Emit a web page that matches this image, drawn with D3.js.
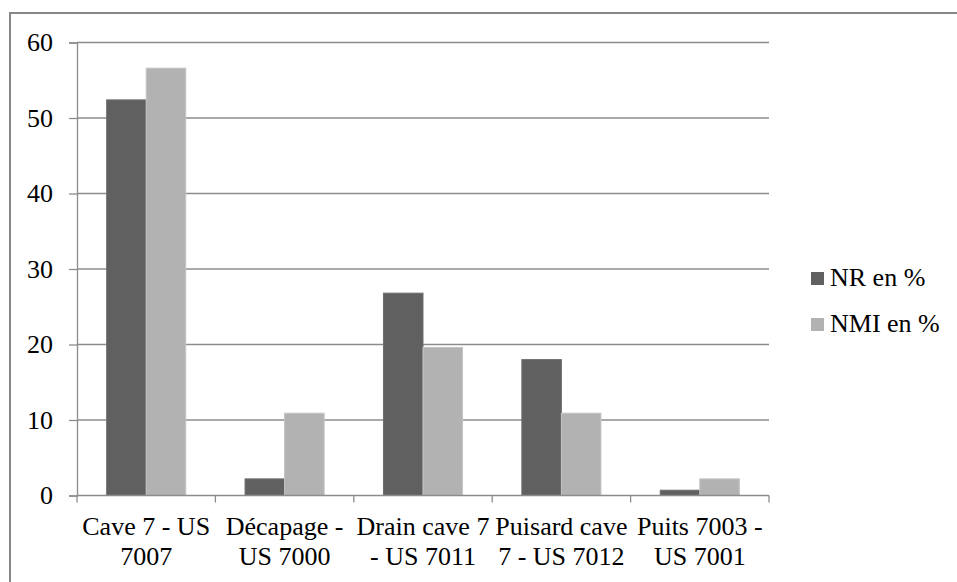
<!DOCTYPE html>
<html>
<head>
<meta charset="utf-8">
<script src="https://cdn.jsdelivr.net/npm/d3@7"></script>
<style>
  html, body { margin: 0; padding: 0; background: #fff; }
  svg { display: block; }
</style>
</head>
<body>
<svg id="chart" width="957" height="582"></svg>
<script>
// ---- data ----
const categories = [
  ["Cave 7 - US", "7007"],
  ["Décapage -", "US 7000"],
  ["Drain cave 7", "- US 7011"],
  ["Puisard cave", "7 - US 7012"],
  ["Puits 7003 -", "US 7001"]
];
const seriesNames = ["NR en %", "NMI en %"];
const nrValues  = [52.4, 2.2, 26.8, 18.0, 0.7];
const nmiValues = [56.6, 10.9, 19.6, 10.9, 2.2];
const yTicks = [0, 10, 20, 30, 40, 50, 60];
const colors = ["#606060", "#b2b2b2"];
const strokes = ["#6e6e6e", "#c4c4c4"];
const FONT = "Liberation Serif";

// ---- layout ----
const svg = d3.select("#chart");
const plotLeft = 77, plotRight = 769, plotTop = 42.5, plotBottom = 495.5;

svg.append("rect")
  .attr("x", 10).attr("y", 13)
  .attr("width", 1000).attr("height", 700)
  .attr("fill", "none").attr("stroke", "#878787").attr("stroke-width", 2);

const catKeys = categories.map((c, i) => i);
const x0 = d3.scaleBand().domain(catKeys).range([plotLeft, plotRight]).paddingInner(0).paddingOuter(0);
const x1 = d3.scaleBand().domain(seriesNames).range([0, x0.bandwidth()]).paddingInner(0).paddingOuter(0.75);
const y = d3.scaleLinear().domain([0, 60]).range([plotBottom, plotTop]);

// gridlines
svg.append("g").selectAll("line").data(yTicks.filter(t => t > 0)).join("line")
  .attr("x1", plotLeft).attr("x2", plotRight)
  .attr("y1", d => y(d)).attr("y2", d => y(d))
  .attr("stroke", "#8c8c8c").attr("stroke-width", 1.3);

// y axis
const yAxis = d3.axisLeft(y).tickValues(yTicks).tickSize(8).tickPadding(16).tickFormat(d3.format("d"));
const gy = svg.append("g").attr("transform", `translate(${plotLeft},0)`).call(yAxis);
gy.attr("font-family", FONT).attr("font-size", 26);
gy.select(".domain").attr("stroke", "#8c8c8c").attr("stroke-width", 1.3);
gy.selectAll(".tick line").attr("stroke", "#8c8c8c").attr("stroke-width", 1.3);
gy.selectAll(".tick text").attr("font-family", FONT).style("font-family", FONT).style("font-size", "26px").attr("fill", "#000");

// bars
const data = catKeys.map(i => ({ i, vals: [nrValues[i], nmiValues[i]] }));
const groups = svg.append("g").selectAll("g").data(data).join("g")
  .attr("transform", d => `translate(${x0(d.i)},0)`);
groups.selectAll("rect").data(d => d.vals.map((v, k) => ({ v, k }))).join("rect")
  .attr("x", d => x1(seriesNames[d.k]))
  .attr("width", x1.bandwidth())
  .attr("y", d => y(d.v))
  .attr("height", d => y(0) - y(d.v))
  .attr("fill", d => colors[d.k])
  .attr("stroke", d => strokes[d.k]).attr("stroke-width", 1);

// x axis
const boundaries = catKeys.map(i => x0(i)).concat([plotRight]);
const gx = svg.append("g");
gx.append("line").attr("x1", plotLeft).attr("x2", plotRight).attr("y1", plotBottom).attr("y2", plotBottom)
  .attr("stroke", "#8c8c8c").attr("stroke-width", 1.3);
gx.selectAll("line.tk").data(boundaries).join("line").attr("class", "tk")
  .attr("x1", d => d).attr("x2", d => d).attr("y1", plotBottom).attr("y2", plotBottom + 7)
  .attr("stroke", "#8c8c8c").attr("stroke-width", 1.3);
categories.forEach((lines, i) => {
  lines.forEach((s, j) => {
    gx.append("text")
      .attr("text-anchor", "middle")
      .attr("font-family", FONT).style("font-family", FONT).style("font-size", "26px").attr("fill", "#000")
      .attr("x", x0(i) + x0.bandwidth() / 2)
      .attr("y", plotBottom + 39.5 + j * 30)
      .text(s);
  });
});

// legend
const lg = svg.append("g");
const legY = [272, 318];
seriesNames.forEach((name, k) => {
  lg.append("rect").attr("x", 811).attr("y", legY[k]).attr("width", 13).attr("height", 13)
    .attr("fill", colors[k]);
  lg.append("text").attr("x", 830).attr("y", legY[k] + 13.5)
    .attr("font-family", FONT).style("font-family", FONT).style("font-size", "26px").attr("fill", "#000").text(name);
});
</script>
</body>
</html>
